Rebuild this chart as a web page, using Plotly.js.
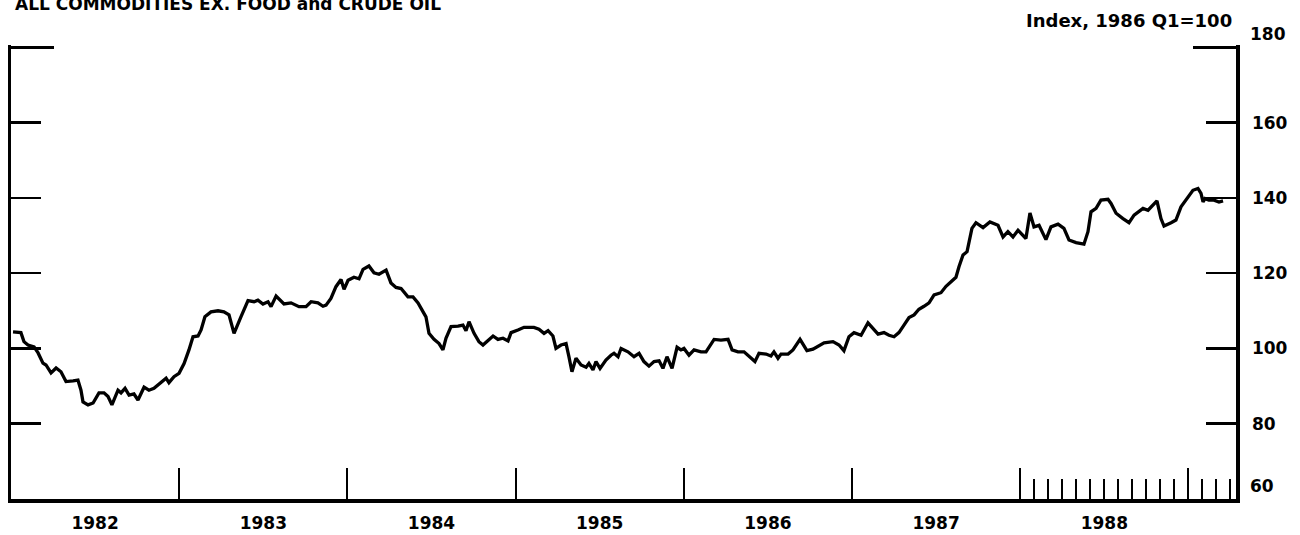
<!DOCTYPE html>
<html>
<head>
<meta charset="utf-8">
<script src="https://cdn.plot.ly/plotly-3.0.1.min.js"></script>
<style>html,body{margin:0;padding:0;background:#fff;}#chart{width:1300px;height:535px;}</style>
</head>
<body>
<div id="chart"></div>
<script>
// Decimal-year dates and index values (1986 Q1 = 100)
const dates = [
1982.012,1982.059,1982.077,1982.101,1982.137,1982.161,1982.190,1982.208,1982.238,1982.268,
1982.297,1982.327,1982.369,1982.398,1982.416,1982.428,1982.458,1982.488,1982.523,1982.553,
1982.577,1982.600,1982.636,1982.654,1982.678,1982.702,1982.731,1982.755,1982.791,1982.820,
1982.850,1982.874,1982.904,1982.922,1982.939,1982.969,1982.999,1983.029,1983.058,1983.082,
1983.112,1983.130,1983.153,1983.189,1983.231,1983.266,1983.296,1983.326,1983.367,1983.409,
1983.445,1983.468,1983.498,1983.528,1983.546,1983.576,1983.623,1983.665,1983.712,1983.754,
1983.784,1983.825,1983.855,1983.873,1983.902,1983.932,1983.962,1983.980,1984.004,1984.039,
1984.069,1984.093,1984.128,1984.158,1984.188,1984.212,1984.230,1984.259,1984.289,1984.319,
1984.360,1984.390,1984.420,1984.450,1984.467,1984.485,1984.515,1984.545,1984.568,1984.586,
1984.616,1984.658,1984.687,1984.705,1984.723,1984.753,1984.782,1984.806,1984.836,1984.866,
1984.895,1984.925,1984.955,1984.973,1985.014,1985.050,1985.109,1985.139,1985.169,1985.193,
1985.222,1985.240,1985.270,1985.300,1985.317,1985.335,1985.359,1985.389,1985.419,1985.436,
1985.460,1985.478,1985.502,1985.537,1985.567,1985.585,1985.609,1985.627,1985.668,1985.704,
1985.734,1985.763,1985.793,1985.823,1985.853,1985.876,1985.900,1985.930,1985.960,1985.983,
1986.001,1986.031,1986.061,1986.102,1986.132,1986.162,1986.180,1986.221,1986.263,1986.287,
1986.322,1986.358,1986.388,1986.423,1986.447,1986.489,1986.518,1986.536,1986.560,1986.578,
1986.620,1986.649,1986.691,1986.732,1986.768,1986.798,1986.834,1986.887,1986.923,1986.952,
1986.982,1987.012,1987.054,1987.095,1987.125,1987.155,1987.190,1987.220,1987.250,1987.279,
1987.309,1987.339,1987.369,1987.398,1987.428,1987.458,1987.488,1987.529,1987.559,1987.589,
1987.618,1987.636,1987.660,1987.684,1987.696,1987.713,1987.737,1987.779,1987.820,1987.868,
1987.898,1987.927,1987.957,1987.987,1988.034,1988.058,1988.082,1988.112,1988.153,1988.183,
1988.225,1988.260,1988.290,1988.332,1988.379,1988.403,1988.421,1988.451,1988.480,1988.522,
1988.540,1988.570,1988.611,1988.647,1988.677,1988.706,1988.730,1988.760,1988.790,1988.813,
1988.837,1988.855,1988.897,1988.926,1988.956,1988.986,1989.027,1989.057,1989.075,1989.087,
1989.099,1989.122,1989.152,1989.182,1989.206
];
const values = [
104.4,104.2,101.8,100.9,100.4,98.8,96.1,95.6,93.5,94.8,
93.8,91.2,91.4,91.6,88.9,85.8,85.0,85.5,88.2,88.2,
87.2,85.0,88.9,88.2,89.4,87.6,87.9,86.3,89.7,88.9,
89.4,90.3,91.2,92.1,90.9,92.5,93.4,96.0,99.6,103.1,
103.3,104.9,108.4,109.7,110.0,109.7,108.9,104.0,108.4,112.7,
112.4,112.8,111.8,112.4,111.1,113.9,111.8,112.1,111.1,111.1,
112.4,112.1,111.2,111.5,113.3,116.4,118.3,115.7,118.1,118.9,
118.5,121.0,121.9,120.1,119.7,120.3,120.8,117.4,116.2,115.9,
113.7,113.7,112.1,109.7,108.4,104.0,102.4,101.3,99.6,102.7,
105.8,105.9,106.2,104.7,107.1,104.0,101.8,100.9,102.2,103.3,
102.4,102.7,102.0,104.2,104.9,105.6,105.6,105.1,104.0,104.7,
103.3,100.0,100.9,101.3,97.8,93.8,97.4,95.6,95.0,96.0,
94.3,96.5,94.7,96.9,98.2,98.7,97.8,100.0,99.1,97.8,
98.7,96.5,95.3,96.5,96.7,94.7,97.8,94.7,100.3,99.6,
100.0,98.2,99.6,99.1,99.1,101.3,102.4,102.2,102.4,99.6,
99.1,99.1,97.8,96.5,98.7,98.5,98.0,99.1,97.4,98.5,
98.5,99.6,102.4,99.4,99.8,100.6,101.5,101.8,100.9,99.4,
103.1,104.2,103.5,106.8,105.3,103.8,104.2,103.5,103.1,104.2,
106.2,108.2,108.9,110.4,111.2,112.1,114.2,114.8,116.5,117.7,
118.9,121.7,124.8,125.7,127.9,131.9,133.4,132.1,133.6,132.7,
129.6,131.0,129.6,131.4,129.2,136.0,132.3,132.7,128.9,132.3,
133.0,131.9,128.8,128.1,127.7,131.0,136.3,137.2,139.4,139.6,
138.5,135.9,134.5,133.4,135.4,136.3,137.2,136.7,138.1,139.2,
134.5,132.5,133.4,134.1,137.6,139.4,142.0,142.5,141.2,138.9,
139.8,139.4,139.4,138.9,139.2
];

const yearLabels = ['1982','1983','1984','1985','1986','1987','1988'];
const yearMid = [1982.5,1983.5,1984.5,1985.5,1986.5,1987.5,1988.5];
const yearBounds = [1983,1984,1985,1986,1987,1988,1989];
const monthTicks = [1988.0833,1988.1667,1988.25,1988.3333,1988.4167,1988.5,1988.5833,
  1988.6667,1988.75,1988.8333,1988.9167,1989.0833,1989.1667,1989.25];
const yInnerTicks = [80,100,120,140,160];
const yEndTicks = [60,180];
const yTopTick = [180];

const titleText = 'ALL COMMODITIES EX. FOOD and CRUDE OIL';
const unitText = 'Index, 1986 Q1=100';

const xRange = [1982, 1989.283];
const yRange = [60, 180.6];
const FONT = 'DejaVu Sans, Liberation Sans, Arial, sans-serif';

const traces = [
  {x: dates, y: values, type: 'scatter', mode: 'lines',
   line: {color: '#000', width: 3.3}, hoverinfo: 'skip', xaxis: 'x', yaxis: 'y'},
  {x: [], y: [], type: 'scatter', mode: 'lines', xaxis: 'x2', yaxis: 'y', showlegend: false},
  {x: [], y: [], type: 'scatter', mode: 'lines', xaxis: 'x', yaxis: 'y2', showlegend: false},
  {x: [], y: [], type: 'scatter', mode: 'lines', xaxis: 'x', yaxis: 'y3', showlegend: false}
];

const layout = {
  width: 1300, height: 535,
  margin: {l: 11, r: 64, t: 45, b: 36},
  paper_bgcolor: '#fff', plot_bgcolor: '#fff',
  showlegend: false,
  font: {family: FONT, color: '#000'},
  xaxis: {
    range: xRange, autorange: false, fixedrange: true,
    showgrid: false, zeroline: false,
    showline: true, linecolor: '#000', linewidth: 3.5,
    tickmode: 'array', tickvals: yearMid, ticktext: yearLabels,
    ticks: '', ticklabelstandoff: 6,
    tickfont: {family: FONT, size: 17, color: '#000', weight: 'bold'},
    minor: {tickmode: 'array', tickvals: yearBounds, ticks: 'inside',
            ticklen: 31, tickwidth: 2, tickcolor: '#000', showgrid: false}
  },
  xaxis2: {
    overlaying: 'x', anchor: 'y', side: 'bottom',
    range: xRange, autorange: false, fixedrange: true,
    showgrid: false, zeroline: false, showline: false,
    tickmode: 'array', tickvals: monthTicks, ticks: 'inside',
    ticklen: 20, tickwidth: 2, tickcolor: '#000', showticklabels: false
  },
  yaxis: {
    side: 'right', range: yRange, autorange: false, fixedrange: true,
    showgrid: false, zeroline: false,
    showline: true, linecolor: '#000', linewidth: 3.5,
    tickmode: 'array', tickvals: yInnerTicks, ticks: 'inside',
    ticklen: 30, tickwidth: 2.5, tickcolor: '#000',
    ticklabelstandoff: 9,
    tickfont: {family: FONT, size: 17, color: '#000', weight: 'bold'}
  },
  yaxis2: {
    overlaying: 'y', side: 'left', anchor: 'x',
    range: yRange, autorange: false, fixedrange: true,
    showgrid: false, zeroline: false,
    showline: true, linecolor: '#000', linewidth: 3.5,
    tickmode: 'array', tickvals: yInnerTicks, ticks: 'inside',
    ticklen: 30, tickwidth: 2.5, tickcolor: '#000', showticklabels: false,
    minor: {tickmode: 'array', tickvals: yTopTick, ticks: 'inside',
            ticklen: 43, tickwidth: 3, tickcolor: '#000', showgrid: false}
  },
  yaxis3: {
    overlaying: 'y', side: 'right', anchor: 'x',
    range: yRange, autorange: false, fixedrange: true,
    showgrid: false, zeroline: false, showline: false,
    tickmode: 'array', tickvals: yEndTicks, ticks: 'inside',
    ticklen: 43, tickwidth: 3, tickcolor: '#000',
    ticklabelposition: 'outside top', ticklabelstandoff: 13,
    tickfont: {family: FONT, size: 17, color: '#000', weight: 'bold'}
  },
  annotations: [
    {text: titleText, xref: 'paper', yref: 'paper', x: 0.002, y: 1.0914,
     xanchor: 'left', yanchor: 'middle', showarrow: false,
     font: {family: FONT, size: 17, color: '#000', weight: 'bold'}},
    {text: unitText, xref: 'paper', yref: 'paper', x: 0.9984, y: 1.054,
     xanchor: 'right', yanchor: 'middle', showarrow: false,
     font: {family: FONT, size: 18, color: '#000', weight: 'bold'}}
  ]
};

Plotly.newPlot('chart', traces, layout, {staticPlot: true, displayModeBar: false});
</script>
</body>
</html>
